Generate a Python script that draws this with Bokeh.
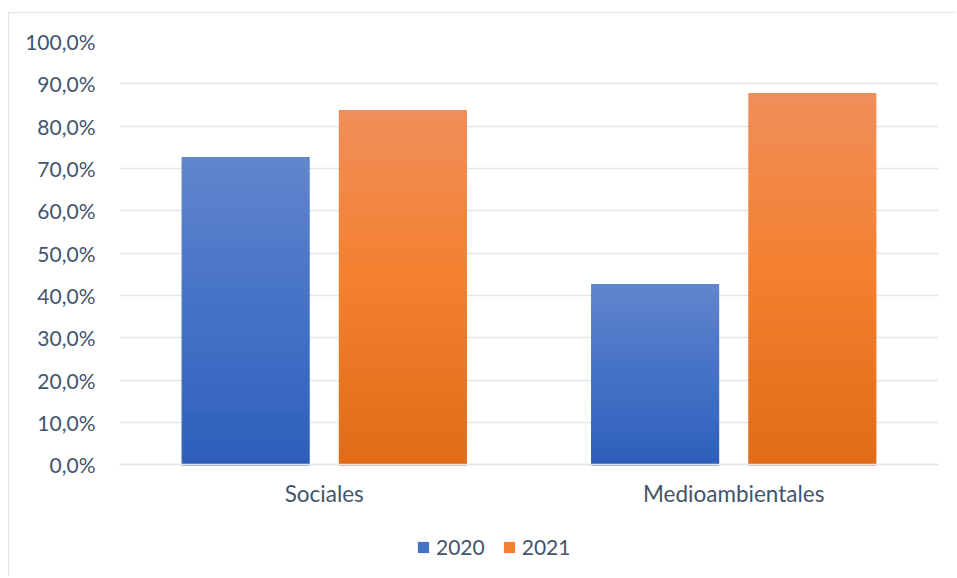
from bokeh.plotting import figure
from bokeh.models import (ColumnDataSource, FactorRange, Range1d, Legend, LegendItem,
                          CustomJSTickFormatter, FixedTicker)
from bokeh.transform import dodge
from bokeh.embed import file_html
from bokeh.resources import INLINE

# ---- data ----
categories = ["Sociales", "Medioambientales"]
years = ["2020", "2021"]
values_2020 = [72.6, 42.6]
values_2021 = [83.7, 87.7]
y_ticks = [0, 10, 20, 30, 40, 50, 60, 70, 80, 90, 100]

# ---- style ----
FONT = "Lato"
TXT = "#44546a"
GRID = "#e2e5ea"
grad = {
    "2020": [(0.0, (0x2d, 0x5f, 0xba)), (0.5, (0x44, 0x72, 0xc6)), (1.0, (0x61, 0x85, 0xcc))],
    "2021": [(0.0, (0xe2, 0x6a, 0x17)), (0.5, (0xf4, 0x7f, 0x2c)), (1.0, (0xf0, 0x8e, 0x5a))],
}
mid_color = {"2020": "#4472c6", "2021": "#f47f2c"}
offsets = {"2020": -0.192, "2021": 0.192}
BAR_W = 0.31
N = 40


def interp(stops, t):
    for (t0, c0), (t1, c1) in zip(stops[:-1], stops[1:]):
        if t0 <= t <= t1:
            f = (t - t0) / (t1 - t0)
            return "#%02x%02x%02x" % tuple(int(round(a + (b - a) * f)) for a, b in zip(c0, c1))
    return "#%02x%02x%02x" % stops[-1][1]


# layout: frame extends to the bottom so the legend can sit inside it;
# the category axis is pinned at y = 0.
W, H = 947, 564
Y_LOW = -26.6
p = figure(width=W, height=H, output_backend="svg", toolbar_location=None,
           x_range=FactorRange(factors=categories, range_padding=0),
           y_range=Range1d(Y_LOW, 100),
           min_border_left=110, min_border_right=18, min_border_top=28,
           min_border_bottom=0)
p.styles = {"margin-left": "8px", "margin-top": "12px",
            "border-left": "1px solid #dfe2e7", "border-top": "1px solid #dfe2e7"}
p.outline_line_color = None

series = {"2020": values_2020, "2021": values_2021}
legend_items = []
for yr in years:
    cat, bot, top, col = [], [], [], []
    for c, v in zip(categories, series[yr]):
        for i in range(N):
            cat.append(c)
            bot.append(v * i / N)
            top.append(v * (i + 1) / N)
            col.append(interp(grad[yr], (i + 0.5) / N))
    src = ColumnDataSource(dict(cat=cat, bottom=bot, top=top, color=col))
    p.vbar(x=dodge("cat", offsets[yr], range=p.x_range), bottom="bottom", top="top",
           width=BAR_W, fill_color="color", line_color="color", line_width=1.2, source=src)
    # zero-height proxy bar, used only for the legend swatch
    proxy = ColumnDataSource(dict(cat=categories[:1], bottom=[0], top=[0]))
    dummy = p.vbar(x="cat", bottom="bottom", top="top", width=BAR_W, source=proxy,
                   fill_color=mid_color[yr], line_color=None)
    legend_items.append(LegendItem(label=yr, renderers=[dummy]))

# axes
p.yaxis.ticker = FixedTicker(ticks=y_ticks)
p.yaxis.formatter = CustomJSTickFormatter(code="return tick.toFixed(1).replace('.', ',') + '%';")
p.yaxis.axis_line_color = None
p.yaxis.major_tick_line_color = None
p.yaxis.minor_tick_line_color = None
p.yaxis.major_label_standoff = 18
p.yaxis.major_label_text_font = FONT
p.yaxis.major_label_text_font_size = "21px"
p.yaxis.major_label_text_color = TXT

p.xaxis.fixed_location = 0
p.xaxis.axis_line_color = GRID
p.xaxis.axis_line_width = 1.3
p.xaxis.major_tick_line_color = None
p.xaxis.minor_tick_line_color = None
p.xaxis.major_tick_out = 0
p.xaxis.major_label_standoff = 15
p.xaxis.major_label_text_font = FONT
p.xaxis.major_label_text_font_size = "22.5px"
p.xaxis.major_label_text_color = TXT

p.xgrid.grid_line_color = None
p.ygrid.grid_line_color = GRID
p.ygrid.grid_line_width = 1.3
p.ygrid.ticker = FixedTicker(ticks=y_ticks)

legend = Legend(items=legend_items, orientation="horizontal", location=(297, 18),
                border_line_color=None, background_fill_alpha=0,
                label_text_font=FONT, label_text_font_size="21px", label_text_color=TXT,
                glyph_width=14, glyph_height=14, label_height=20, label_standoff=6,
                spacing=17, padding=0, margin=0)
p.add_layout(legend, "center")

open("out.html", "w").write(file_html(p, INLINE))
